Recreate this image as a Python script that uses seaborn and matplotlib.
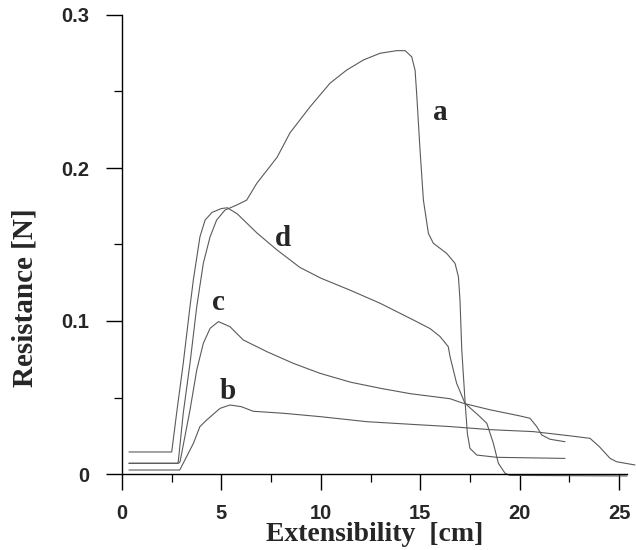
import seaborn as sns
import matplotlib.pyplot as plt
from matplotlib.ticker import MultipleLocator

# curve a
x_a = [0.35, 2.8, 2.83, 3.08, 3.42, 3.76, 4.09, 4.43, 4.76, 5.18, 5.77, 6.27, 6.78, 7.8, 8.45,
       9.46, 10.46, 11.3, 12.14, 12.98, 13.82, 14.24, 14.57, 14.74, 14.82, 14.99, 15.16, 15.41,
       15.66, 16.33, 16.75, 16.92, 17.0, 17.09, 17.25, 17.37, 17.5, 17.84, 18.85, 22.28]
y_a = [0.007, 0.007, 0.008, 0.0397, 0.0723, 0.1094, 0.1377, 0.155, 0.166, 0.1725, 0.1758, 0.179,
       0.190, 0.207, 0.223, 0.240, 0.2554, 0.264, 0.2706, 0.275, 0.2767, 0.2767, 0.2727, 0.264,
       0.2488, 0.2118, 0.179, 0.1573, 0.1508, 0.1442, 0.1377, 0.129, 0.1137, 0.081, 0.0484,
       0.0266, 0.0168, 0.0124, 0.0109, 0.0102]

# curve b
x_b = [0.35, 2.9, 2.92, 3.59, 3.92, 4.26, 4.93, 5.43, 6.0, 6.6, 8.11, 9.96, 12.31, 14.5, 16.5,
       18.5, 20.69, 22.5, 23.54, 24.0, 24.55, 24.88, 25.8]
y_b = [0.0026, 0.0026, 0.003, 0.020, 0.031, 0.0353, 0.0429, 0.0451, 0.0440, 0.0410, 0.0397,
       0.0375, 0.0342, 0.0325, 0.031, 0.029, 0.0277, 0.025, 0.0233, 0.018, 0.0102, 0.008, 0.0059]

# curve c
x_c = [0.35, 2.85, 2.92, 3.42, 3.76, 4.09, 4.43, 4.85, 5.43, 6.10, 7.28, 8.62, 9.96, 11.5, 13.0,
       14.5, 16.5, 17.17, 18.5, 20.0, 20.52, 20.86, 21.11, 21.53, 22.28]
y_c = [0.007, 0.007, 0.008, 0.0418, 0.068, 0.0854, 0.0952, 0.0996, 0.0963, 0.0876, 0.080,
       0.0723, 0.0658, 0.060, 0.056, 0.0525, 0.0492, 0.0462, 0.042, 0.038, 0.0364, 0.031,
       0.0255, 0.0227, 0.0211]

# curve d
x_d = [0.35, 2.5, 2.75, 3.08, 3.42, 3.59, 3.92, 4.18, 4.53, 5.0, 5.3, 5.8, 6.79, 7.8, 8.95, 10.0,
       11.5, 12.98, 14.65, 15.5, 16.0, 16.41, 16.5, 16.83, 17.25, 18.0, 18.35, 18.68, 18.93,
       19.27, 19.5, 25.4]
y_d = [0.0144, 0.0144, 0.040, 0.0723, 0.1094, 0.127, 0.155, 0.166, 0.171, 0.1735, 0.174, 0.170,
       0.1575, 0.1464, 0.135, 0.128, 0.120, 0.1116, 0.1007, 0.095, 0.0898, 0.0832, 0.0767,
       0.0593, 0.0462, 0.0375, 0.0331, 0.0200, 0.0070, 0.0004, -0.0009, -0.0013]

curve_names = ["a", "b", "c", "d"]
label_x = [16.0, 5.33, 4.83, 8.1]
label_y = [0.2366, 0.0536, 0.112, 0.154]

sns.set_style("ticks")
plt.rcParams["font.family"] = ["Liberation Sans", "DejaVu Sans"]

fig = plt.figure(figsize=(6.36, 5.5), dpi=100)
ax = fig.add_axes([122 / 636, 1 - 474 / 550, 505 / 636, 459 / 550])

for xs, ys in [(x_a, y_a), (x_b, y_b), (x_c, y_c), (x_d, y_d)]:
    sns.lineplot(x=xs, y=ys, ax=ax, sort=False, estimator=None, color="#5a5a5a",
                 linewidth=0.8, clip_on=False)

for name, lx, ly in zip(curve_names, label_x, label_y):
    ax.text(lx, ly, name, ha="center", va="center", fontsize=21, fontweight="bold",
            family="Liberation Serif")

ax.set_xlim(0, 25.4)
ax.set_ylim(0, 0.3)
ax.xaxis.set_major_locator(MultipleLocator(5))
ax.xaxis.set_minor_locator(MultipleLocator(2.5))
ax.yaxis.set_minor_locator(MultipleLocator(0.05))
ax.set_yticks([0, 0.1, 0.2, 0.3])
ax.set_yticklabels(["0", "0.1", "0.2", "0.3"])

ax.tick_params(which="major", length=11.5, width=1, color="black", direction="out")
ax.tick_params(which="minor", length=6, width=0.9, color="black", direction="out")
ax.tick_params(axis="y", which="major", pad=12, labelsize=14.5)
ax.tick_params(axis="x", which="major", pad=10, labelsize=14.5)
for lab in ax.get_xticklabels() + ax.get_yticklabels():
    lab.set_fontweight("bold")

sns.despine(ax=ax)
for s in ["left", "bottom"]:
    ax.spines[s].set_linewidth(1.0)
    ax.spines[s].set_color("black")

ax.set_xlabel("Extensibility  [cm]", fontsize=20, fontweight="bold", family="Liberation Serif")
ax.set_ylabel("Resistance [N]", fontsize=21, fontweight="bold", family="Liberation Serif")
ax.xaxis.set_label_coords(0.5, -0.104)
ax.yaxis.set_label_coords(-0.165, 0.385)

fig.savefig("out.png", dpi=100)
